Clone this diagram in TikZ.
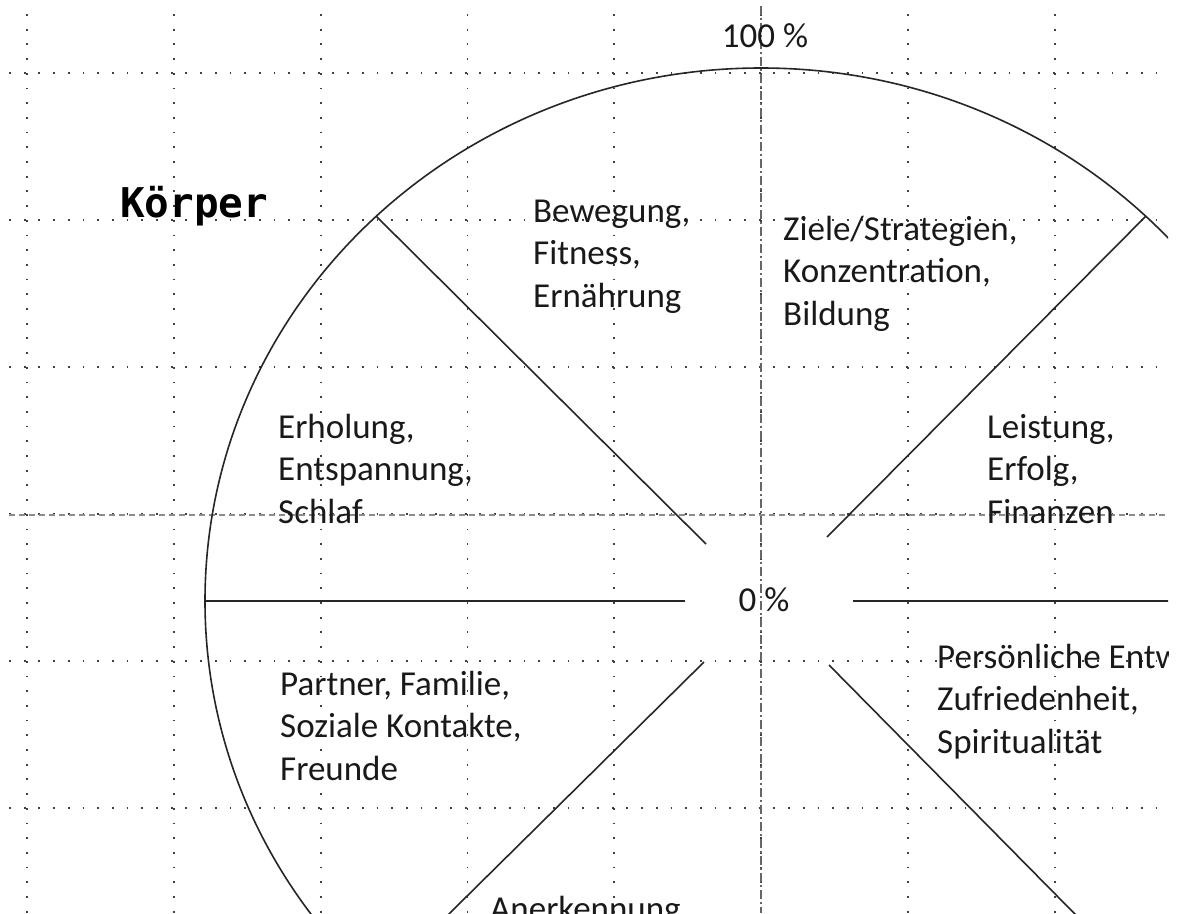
\documentclass[tikz,border=0pt]{standalone}
\usepackage{fontspec}
\setmainfont{Carlito}
\newfontfamily\monob{DejaVu Sans Mono}
\newcommand\threel[3]{\vtop{\hbox{#1}\hbox{#2}\hbox{#3}}}
\begin{document}
\begin{tikzpicture}[x=1pt,y=-1pt,
  gridline/.style={line width=1.8pt, dash pattern=on 1.8pt off 12.9pt, black!75},
  spoke/.style={line width=1.6pt, black!85},
  lbl/.style={anchor=base west, inner sep=0pt, font=\fontsize{35}{42.5}\selectfont, text=black!90},
]
\useasboundingbox (0,0) rectangle (1180,913);
\fill[white] (0,0) rectangle (1180,913);
\begin{scope}
\clip (0,0) rectangle (1168,913);
% dotted grid
\foreach \gx in {27,173.8,...,1100} \draw[gridline] (\gx,14) -- (\gx,913);
\foreach \gy in {73.3,220.3,...,900} \draw[gridline] (9,\gy) -- (1168,\gy);
% axes
\draw[black!60, line width=1.1pt, dash pattern=on 9pt off 3pt on 2pt off 3pt] (761,6) -- (761,913);
\draw[black!45, line width=1.1pt, dash pattern=on 6pt off 4pt] (9,515) -- (1168,515);
% wheel
\coordinate (c) at (761,601);
\draw[spoke] (c) ellipse [x radius=556, y radius=533];
\coordinate (ulI) at (706,544); \coordinate (ulO) at (376,216);
\coordinate (urI) at (827,537); \coordinate (urO) at (1146,216);
\coordinate (llI) at (704,662); \coordinate (llO) at (376,986);
\coordinate (lrI) at (829,665); \coordinate (lrO) at (1146,986);
\coordinate (lI) at (685,601); \coordinate (lO) at (205,601);
\coordinate (rI) at (853,601); \coordinate (rO) at (1317,601);
\draw[spoke] (ulI) -- (ulO);
\draw[spoke] (urI) -- (urO);
\draw[spoke] (llI) -- (llO);
\draw[spoke] (lrI) -- (lrO);
\draw[spoke] (lI) -- (lO);
\draw[spoke] (rI) -- (rO);
% labels
\node[anchor=base west, inner sep=0pt, font=\monob\bfseries\fontsize{41}{41}\selectfont] (koerper) at (120,217) {Körper};
\node[lbl, anchor=base] (hundred) at (765,47) {100 \%};
\node[lbl, anchor=base] (zero) at (764,611) {0 \%};
\node[lbl] (bew) at (533,222) {\threel{Bewegung,}{Fitness,}{Ernährung}};
\node[lbl] (ziel) at (783,240) {\threel{Ziele/Strategien,}{Konzentration,}{Bildung}};
\node[lbl] (erh) at (278,438) {\threel{Erholung,}{Entspannung,}{Schlaf}};
\node[lbl] (lei) at (987,438) {\threel{Leistung,}{Erfolg,}{Finanzen}};
\node[lbl] (pers) at (937,668) {\threel{Persönliche Entwicklung,}{Zufriedenheit,}{Spiritualität}};
\node[lbl] (part) at (280,695) {\threel{Partner, Familie,}{Soziale Kontakte,}{Freunde}};
\node[lbl] (aner) at (490,920) {Anerkennung,};
\end{scope}
\end{tikzpicture}
\end{document}
